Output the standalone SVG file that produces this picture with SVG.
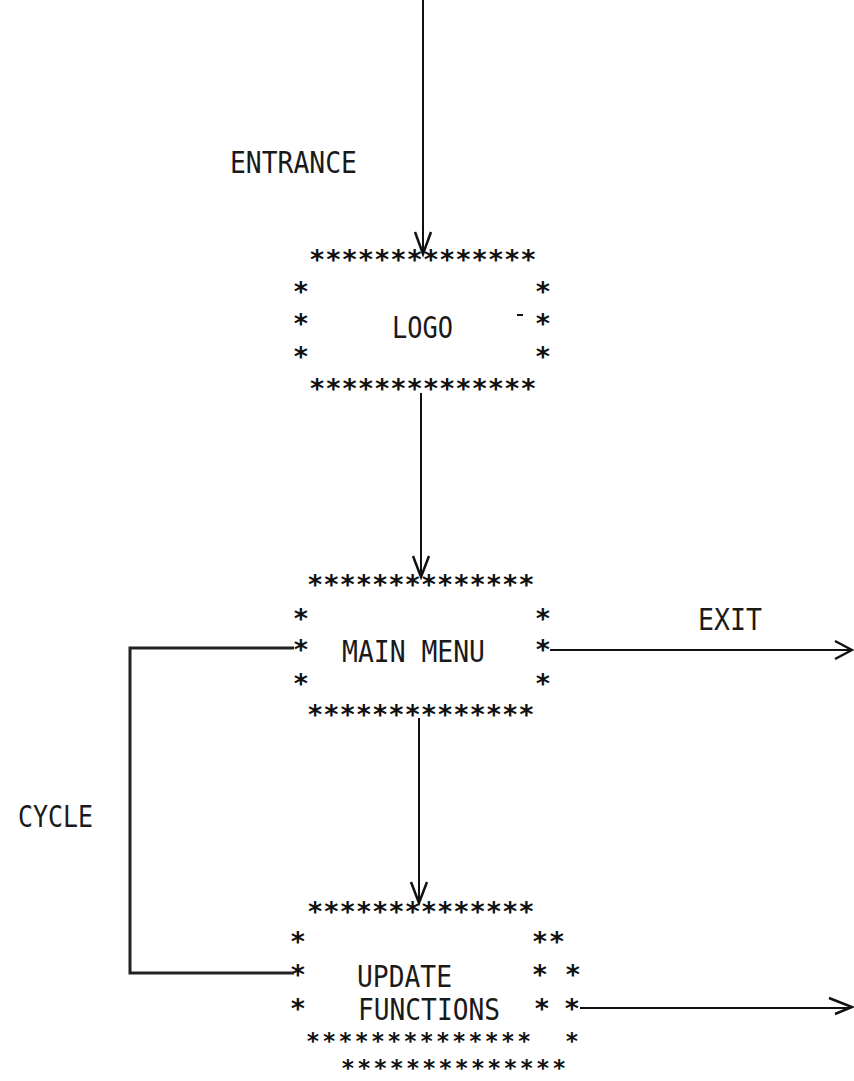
<svg xmlns="http://www.w3.org/2000/svg" width="854" height="1081" viewBox="0 0 854 1081">
<style>
.bg{fill:#ffffff}
.st{font-family:"DejaVu Sans Mono","Liberation Mono",monospace;font-size:27px;font-weight:bold;fill:#111}
.sm{font-family:"DejaVu Sans Mono","Liberation Mono",monospace;font-size:27px;font-weight:bold;fill:#111;text-anchor:middle}
.sb{font-family:"DejaVu Sans Mono","Liberation Mono",monospace;font-size:23px;font-weight:bold;fill:#111;letter-spacing:2.4px}
.sbm{font-family:"DejaVu Sans Mono","Liberation Mono",monospace;font-size:23px;font-weight:bold;fill:#111;text-anchor:middle}
.lb{font-family:"DejaVu Sans Mono","Liberation Mono",monospace;font-size:30px;fill:#1a1a1a}
.ln{stroke:#111;stroke-width:2;fill:none}
.lp{stroke:#222;stroke-width:3;fill:none}
.hd{stroke:#111;stroke-width:2.5;fill:none;stroke-linejoin:miter}
</style>
<rect class="bg" x="0" y="0" width="854" height="1081"/>
<g id="labels">
<text class="lb" x="230" y="173" textLength="127" lengthAdjust="spacingAndGlyphs">ENTRANCE</text>
<text class="lb" x="698" y="630" textLength="64" lengthAdjust="spacingAndGlyphs">EXIT</text>
<text class="lb" x="18" y="827" textLength="75" lengthAdjust="spacingAndGlyphs">CYCLE</text>
</g>
<g id="logo">
<text class="st" x="309" y="269">**************</text>
<text class="sm" x="301" y="301">*</text>
<text class="sm" x="301" y="333">*</text>
<text class="sm" x="301" y="366">*</text>
<text class="sm" x="543" y="301">*</text>
<text class="sm" x="543" y="333">*</text>
<text class="sm" x="543" y="366">*</text>
<text class="st" x="309" y="398">**************</text>
<text class="lb" x="392" y="338" textLength="61" lengthAdjust="spacingAndGlyphs">LOGO</text>
<line class="ln" x1="517" y1="315" x2="523" y2="315"/>
</g>
<g id="main-menu">
<text class="st" x="307" y="594">**************</text>
<text class="sm" x="301" y="628">*</text>
<text class="sm" x="301" y="659">*</text>
<text class="sm" x="301" y="693">*</text>
<text class="sm" x="543" y="628">*</text>
<text class="sm" x="543" y="659">*</text>
<text class="sm" x="543" y="693">*</text>
<text class="st" x="307" y="724">**************</text>
<text class="lb" x="342" y="662" textLength="143" lengthAdjust="spacingAndGlyphs">MAIN MENU</text>
</g>
<g id="update-functions">
<text class="st" x="307" y="921">**************</text>
<text class="sm" x="298" y="951">*</text>
<text class="sm" x="298" y="984">*</text>
<text class="sm" x="298" y="1018">*</text>
<text class="sm" x="540" y="951">*</text>
<text class="sm" x="557" y="951">*</text>
<text class="sm" x="540" y="984">*</text>
<text class="sm" x="573" y="984">*</text>
<text class="sm" x="542" y="1018">*</text>
<text class="sm" x="572" y="1018">*</text>
<text class="sb" x="306" y="1049">**************</text>
<text class="sbm" x="572" y="1049">*</text>
<text class="sb" x="341" y="1075.5">**************</text>
<text class="lb" x="357" y="987" textLength="95" lengthAdjust="spacingAndGlyphs">UPDATE</text>
<text class="lb" x="358" y="1020" textLength="142" lengthAdjust="spacingAndGlyphs">FUNCTIONS</text>
</g>
<g id="connectors">
<line class="ln" x1="423" y1="0" x2="423" y2="254"/>
<polyline class="hd" points="415,232 423,254 431,232"/>
<line class="ln" x1="421" y1="393" x2="421" y2="577"/>
<polyline class="hd" points="413,556 421,577 429,556"/>
<line class="ln" x1="419" y1="718" x2="419" y2="903"/>
<polyline class="hd" points="411,882 419,903 427,882"/>
<line class="ln" x1="550" y1="650" x2="851" y2="650"/>
<polyline class="hd" points="835,641 852,650 835,659"/>
<line class="ln" x1="580" y1="1008" x2="851" y2="1008"/>
<polyline class="hd" points="829,998 852,1007 835,1014"/>
<polyline class="lp" points="294,648 130,648 130,973 294,973"/>
</g>
</svg>
